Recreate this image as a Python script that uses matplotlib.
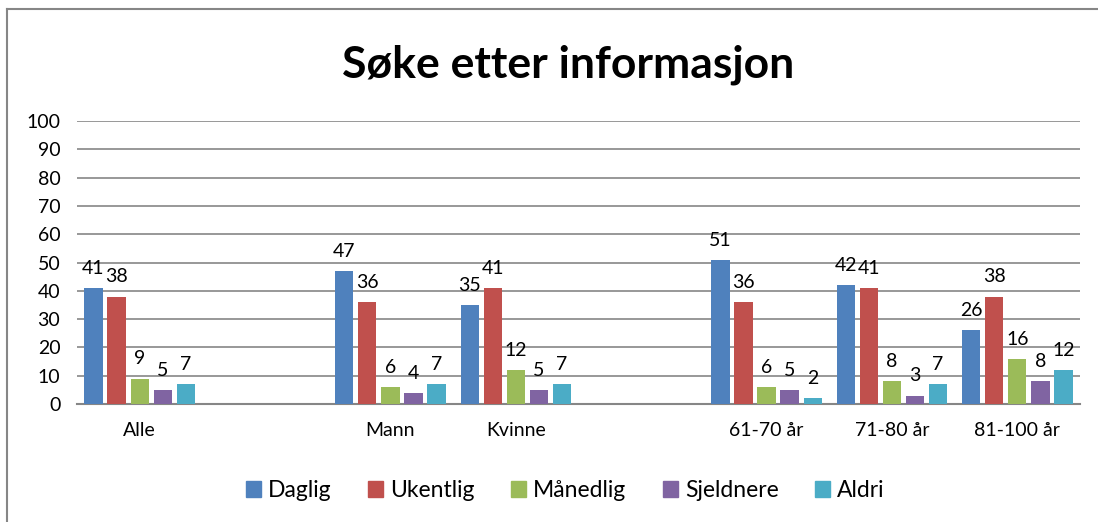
import numpy as np
import matplotlib.pyplot as plt
from matplotlib.lines import Line2D
from matplotlib.patches import Patch

plt.rcParams['font.family'] = ['Lato', 'DejaVu Sans']

# data
categories = ['Alle', '', 'Mann', 'Kvinne', '', '61-70 år', '71-80 år', '81-100 år']
series = ['Daglig', 'Ukentlig', 'Månedlig', 'Sjeldnere', 'Aldri']
daglig = [41, None, 47, 35, None, 51, 42, 26]
ukentlig = [38, None, 36, 41, None, 36, 41, 38]
maanedlig = [9, None, 6, 12, None, 6, 8, 16]
sjeldnere = [5, None, 4, 5, None, 5, 3, 8]
aldri = [7, None, 7, 7, None, 2, 7, 12]
colors = ['#4F81BD', '#C0504D', '#9BBB59', '#8064A2', '#4BACC6']

fig = plt.figure(figsize=(10.98, 5.22), dpi=100)
ax = fig.add_axes([0.0701, 0.226, 0.9135, 0.542])

x = np.arange(len(categories))
pitch = 0.184
width = 0.146
values = [daglig, ukentlig, maanedlig, sjeldnere, aldri]
for i, (vals, c) in enumerate(zip(values, colors)):
    xs = [xi + (i - 2) * pitch for xi, v in zip(x, vals) if v is not None]
    vs = [v for v in vals if v is not None]
    ax.bar(xs, vs, width=width, color=c, zorder=3)
    for xx, v in zip(xs, vs):
        ax.annotate(str(v), (xx, v), xytext=(0, 8), textcoords='offset points',
                    ha='center', va='bottom', fontsize=14)

ax.set_xlim(-0.5, len(categories) - 0.5)
ax.set_ylim(0, 100)
ax.set_yticks(range(0, 101, 10))
ax.yaxis.grid(True, color='#868686', linewidth=1.2, zorder=0)
ax.set_axisbelow(True)
for s in ['top', 'right', 'left']:
    ax.spines[s].set_visible(False)
ax.spines['bottom'].set_color('#868686')
ax.spines['bottom'].set_linewidth(1.5)
ax.tick_params(length=0, labelsize=14)
ax.tick_params(axis='y', pad=12)
ax.set_xticks(x)
ax.set_xticklabels(categories)
ax.tick_params(axis='x', pad=13)

fig.suptitle('Søke etter informasjon', fontsize=32, fontweight='bold', x=0.517, y=0.915)

handles = [Patch(color=c) for c in colors]
fig.legend(handles, series, loc='center', bbox_to_anchor=(0.515, 0.06), ncol=5,
           frameon=False, fontsize=16.5, handlelength=0.65, handleheight=0.65,
           handletextpad=0.3, columnspacing=1.6)

# outer frame
fig.add_artist(Line2D([7 / 1098, 1], [1 - 9 / 522, 1 - 9 / 522], color='#868686', lw=1.5))
fig.add_artist(Line2D([7 / 1098, 7 / 1098], [0, 1 - 9 / 522], color='#868686', lw=1.5))

fig.savefig('out.png', dpi=100)
